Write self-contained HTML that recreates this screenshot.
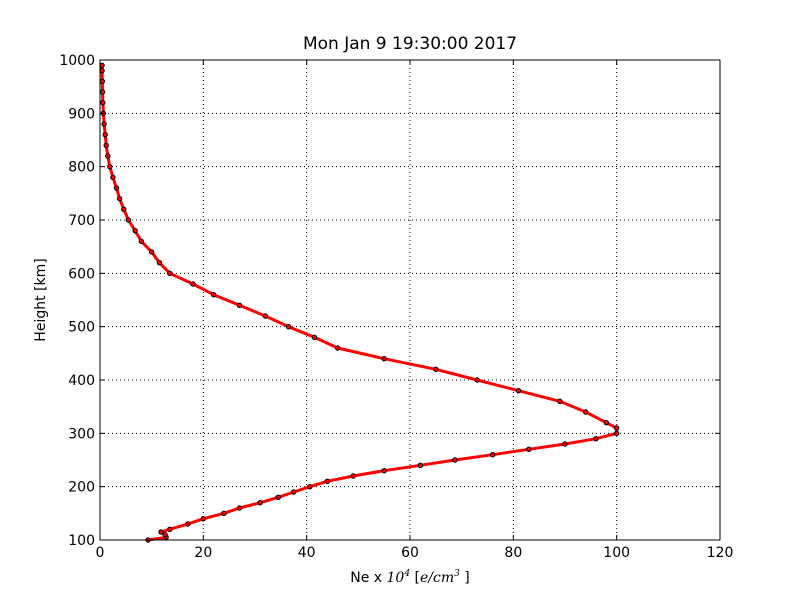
<!DOCTYPE html>
<html><head><meta charset="utf-8"><style>
body{margin:0;background:#fff;}
svg text{font-family:"DejaVu Sans","Liberation Sans",sans-serif;fill:#000;}
</style></head><body>
<svg id="chart" width="800" height="600" xmlns="http://www.w3.org/2000/svg">
<rect width="800" height="600" fill="#fff"/>
<text x="410" y="49" font-size="17" text-anchor="middle">Mon Jan  9 19:30:00 2017</text>
<g id="grid"></g><g id="series"></g>
<rect x="100" y="60" width="620" height="480" fill="none" stroke="#000" stroke-width="1"/>
<g id="ticks"></g>
<text x="410" y="582" font-size="14" text-anchor="middle">Ne x <tspan font-family="DejaVu Serif,serif" font-style="italic">10<tspan font-size="9" dy="-6">4</tspan></tspan><tspan dy="6">  [</tspan><tspan font-family="DejaVu Serif,serif" font-style="italic">e/cm<tspan font-size="9" dy="-6">3</tspan></tspan><tspan dy="6"> ]</tspan></text>
<text transform="translate(45,300) rotate(-90)" font-size="14" text-anchor="middle">Height [km]</text>
</svg>
<script>
const heights=[100,105,110,115,120,130,140,150,160,170,180,190,200,210,220,230,240,250,260,270,280,290,300,310,320,340,360,380,400,420,440,460,480,500,520,540,560,580,600,620,640,660,680,700,720,740,760,780,800,820,840,860,880,900,920,940,960,980,990];
const density=[9.3,12.8,12.6,11.8,13.5,17,20,24,27,31,34.5,37.5,40.6,44,49,55,62,68.7,76,83,90,96,100,100,98,94,89,81,73,65,55,46,41.5,36.5,32,27,22,18,13.5,11.5,10,8,6.8,5.5,4.6,3.8,3.2,2.5,1.9,1.5,1.2,1.0,0.8,0.65,0.55,0.5,0.45,0.4,0.4];
const xTicks=[0,20,40,60,80,100,120];
const yTicks=[100,200,300,400,500,600,700,800,900,1000];
const NS="http://www.w3.org/2000/svg";
const X=v=>100+v*620/120, Y=h=>540-(h-100)*480/900;
function mk(tag,attrs,parent){const e=document.createElementNS(NS,tag);for(const k in attrs)e.setAttribute(k,attrs[k]);parent.appendChild(e);return e;}
const grid=document.getElementById('grid'),ticks=document.getElementById('ticks'),series=document.getElementById('series');
xTicks.forEach(t=>{
 const g=mk('line',{x1:X(t),x2:X(t),y1:60,y2:540,stroke:'#000','stroke-dasharray':'1,3','stroke-width':1},grid);
 
 
 mk('line',{x1:X(t),x2:X(t),y1:540,y2:535,stroke:'#000'},ticks);
 mk('line',{x1:X(t),x2:X(t),y1:60,y2:65,stroke:'#000'},ticks);
 const l=mk('text',{x:X(t),y:557,'font-size':14,'text-anchor':'middle'},ticks);l.textContent=t;
 
 
});
yTicks.forEach(t=>{
 const g=mk('line',{x1:100,x2:720,y1:Y(t),y2:Y(t),stroke:'#000','stroke-dasharray':'1,3','stroke-width':1},grid);
 
 
 mk('line',{x1:100,x2:105,y1:Y(t),y2:Y(t),stroke:'#000'},ticks);
 mk('line',{x1:715,x2:720,y1:Y(t),y2:Y(t),stroke:'#000'},ticks);
 const l=mk('text',{x:95,y:Y(t)+5,'font-size':14,'text-anchor':'end'},ticks);l.textContent=t;
 
 
});
const pts=heights.map((h,i)=>X(density[i]).toFixed(1)+','+Y(h).toFixed(1)).join(' ');
const line=mk('polyline',{points:pts,fill:'none',stroke:'#ff0000','stroke-width':3,'stroke-linejoin':'round'},series);


heights.forEach((h,i)=>{
 const c=mk('circle',{cx:X(density[i]),cy:Y(h),r:2.2,fill:'#ff0000',stroke:'#000','stroke-width':1},series);
 
 
});
</script>
</body></html>
